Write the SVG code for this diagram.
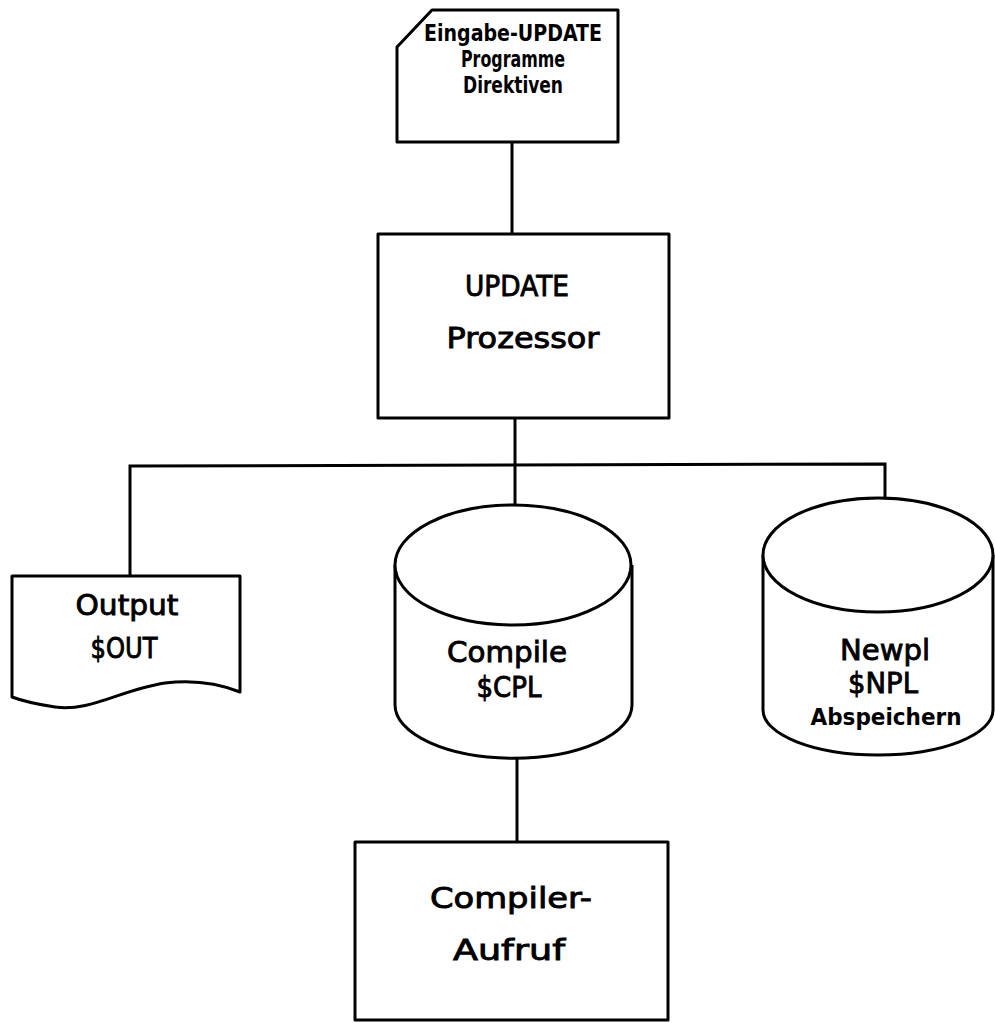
<svg xmlns="http://www.w3.org/2000/svg" width="995" height="1023" viewBox="0 0 995 1023">
<style>
.s{fill:#fff;stroke:#000;stroke-width:3;stroke-linejoin:round}
.c{fill:none;stroke:#000;stroke-width:3}
.t{font-family:"DejaVu Sans","Liberation Sans",sans-serif;font-size:29px;fill:#000;stroke:#000;stroke-width:0.9;text-anchor:middle}
.b{font-family:"DejaVu Sans Condensed","DejaVu Sans",sans-serif;font-weight:bold;font-size:23px;fill:#000;text-anchor:middle}
</style>
<rect width="995" height="1023" fill="#fff"/>
<g id="connectors">
<line class="c" x1="512" y1="142" x2="512" y2="234"/>
<line class="c" x1="515" y1="418" x2="515" y2="465"/>
<polyline class="c" points="130,576 130,466 885,464 885,498"/>
<line class="c" x1="515" y1="465" x2="515" y2="505"/>
<line class="c" x1="517" y1="758" x2="517" y2="842"/>
</g>
<g id="input">
<path class="s" d="M397,47 L432,10 L618,10 L618,142 L397,142 Z"/>
<text class="b" x="513" y="41" textLength="178" lengthAdjust="spacingAndGlyphs">Eingabe-UPDATE</text>
<text class="b" x="513" y="67" textLength="104" lengthAdjust="spacingAndGlyphs">Programme</text>
<text class="b" x="513" y="93" textLength="100" lengthAdjust="spacingAndGlyphs">Direktiven</text>
</g>
<g id="update">
<rect class="s" x="378" y="234" width="291" height="184"/>
<text class="t" x="517" y="296" textLength="104" lengthAdjust="spacingAndGlyphs">UPDATE</text>
<text class="t" x="523" y="348" textLength="153" lengthAdjust="spacingAndGlyphs">Prozessor</text>
</g>
<g id="output">
<path class="s" d="M12,576 L240,576 L240,692 C215,682 190,680 165,683 C120,690 90,712 55,707 C35,704 20,700 12,697 Z"/>
<text class="t" x="127" y="615" textLength="103" lengthAdjust="spacingAndGlyphs">Output</text>
<text class="t" x="124" y="658" textLength="67" lengthAdjust="spacingAndGlyphs">$OUT</text>
</g>
<g id="compile">
<path class="s" d="M395,565 L395,705 A118,53 0 0 0 632,705 L632,565"/>
<ellipse class="s" cx="513" cy="565" rx="118" ry="60"/>
<text class="t" x="507" y="662" textLength="120" lengthAdjust="spacingAndGlyphs">Compile</text>
<text class="t" x="509" y="697" textLength="65" lengthAdjust="spacingAndGlyphs">$CPL</text>
</g>
<g id="newpl">
<path class="s" d="M763,555 L763,710 A115,45 0 0 0 993,710 L993,555"/>
<ellipse class="s" cx="878" cy="555" rx="115" ry="57"/>
<text class="t" x="885" y="660" textLength="90" lengthAdjust="spacingAndGlyphs">Newpl</text>
<text class="t" x="883" y="693" textLength="70" lengthAdjust="spacingAndGlyphs">$NPL</text>
<text class="b" x="886" y="725" textLength="151" lengthAdjust="spacingAndGlyphs">Abspeichern</text>
</g>
<g id="compiler">
<rect class="s" x="355" y="842" width="313" height="178"/>
<text class="t" x="511" y="908" textLength="162" lengthAdjust="spacingAndGlyphs">Compiler-</text>
<text class="t" x="509" y="960" textLength="112" lengthAdjust="spacingAndGlyphs">Aufruf</text>
</g>
</svg>
